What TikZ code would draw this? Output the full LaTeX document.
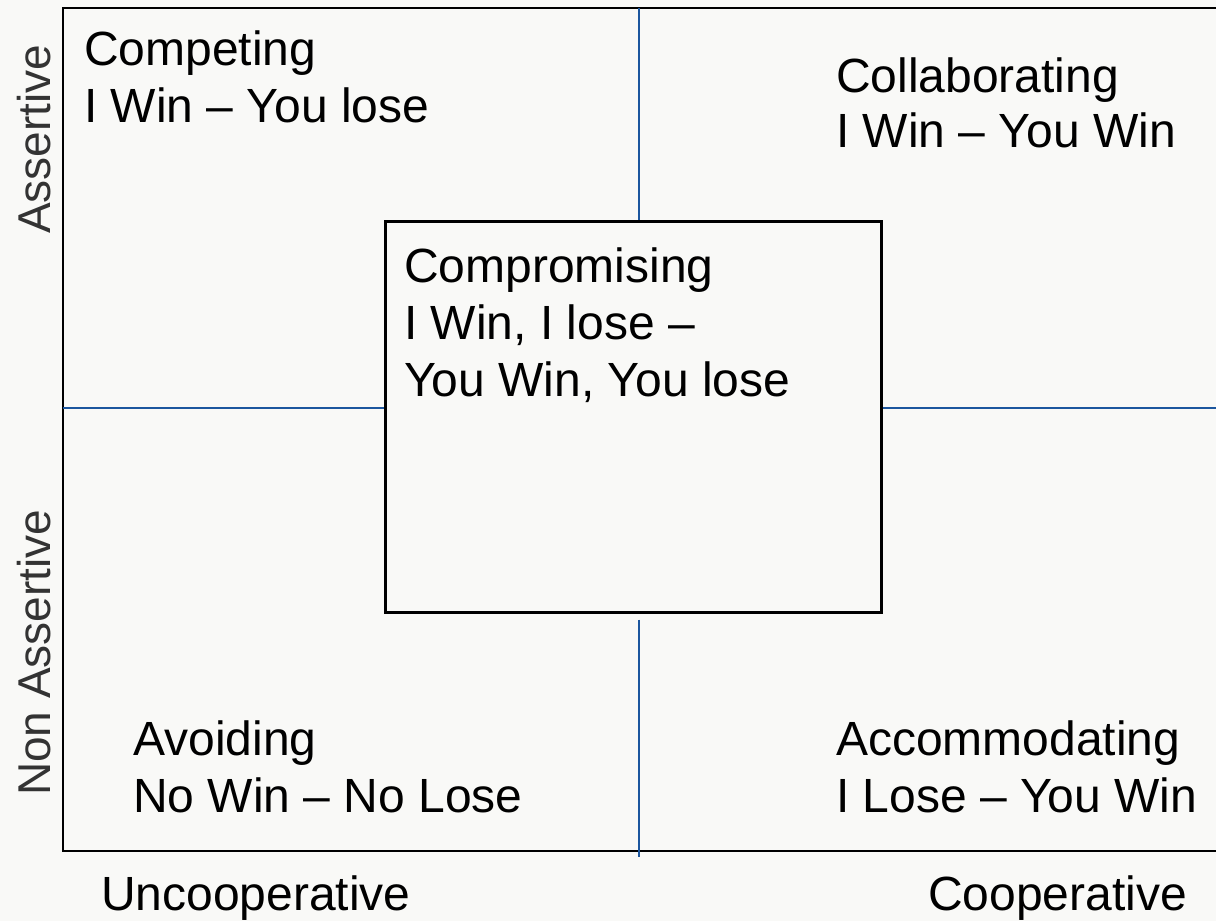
\documentclass[tikz,border=0pt]{standalone}
\usepackage{fontspec}
\setmainfont{Liberation Sans}
\usetikzlibrary{positioning}
\definecolor{paper}{RGB}{249,249,247}
\definecolor{gridblue}{RGB}{28,86,158}
\tikzset{
  quadtext/.style={anchor=base west, inner sep=0pt, font=\fontsize{48}{57}\selectfont},
  sidetext/.style={quadtext, rotate=90, text=black!80, font=\fontsize{46}{55}\selectfont},
  frameline/.style={line width=2.5pt, black},
  divider/.style={line width=2pt, gridblue}
}

\begin{document}
\begin{tikzpicture}[x=1pt, y=-1pt]
\useasboundingbox (0,0) rectangle (1216,921);
\fill[paper] (0,0) rectangle (1216,921);
\coordinate (tl) at (63,8);
\coordinate (tr) at (1216,8);
\coordinate (bl) at (63,851);
\coordinate (br) at (1216,851);
\coordinate (vtop) at (639,8);
\coordinate (vbot) at (639,857);
\coordinate (hl) at (63,408);
\coordinate (hr) at (1216,408);
\node[draw, frameline, fill=paper, anchor=north west, minimum width=496pt, minimum height=391pt,
  inner sep=0pt] (mid) at (384,220) {};
\draw[frameline] (tr) -- (tl) -- (bl) -- (br);
\draw[divider] (vtop) -- (vtop |- mid.north);
\draw[divider] ([yshift=-6pt]vbot |- mid.south) -- (vbot);
\draw[divider] (hl) -- (hl -| mid.west);
\draw[divider] (hr -| mid.east) -- (hr);
\node[quadtext] (compete) at (84,65) {Competing};
\node[quadtext] (competesub) at (84,122) {I Win – You lose};
\node[quadtext] (collab) at (836,92) {Collaborating};
\node[quadtext] (collabsub) at (836,147) {I Win – You Win};
\node[quadtext] (comprom) at (404,282) {Compromising};
\node[quadtext] (compromsub) at (404,339) {I Win, I lose –};
\node[quadtext] (compromsubb) at (404,396) {You Win, You lose};
\node[quadtext] (avoid) at (133,755) {Avoiding};
\node[quadtext] (avoidsub) at (133,812) {No Win – No Lose};
\node[quadtext] (accom) at (836,755) {Accommodating};
\node[quadtext] (accomsub) at (836,812) {I Lose – You Win};
\node[quadtext] (uncoop) at (101,910) {Uncooperative};
\node[quadtext] (coop) at (928,910) {Cooperative};
\node[sidetext] (assert) at (50,234) {Assertive};
\node[sidetext] (nonassert) at (50,796) {Non Assertive};
\end{tikzpicture}
\end{document}
